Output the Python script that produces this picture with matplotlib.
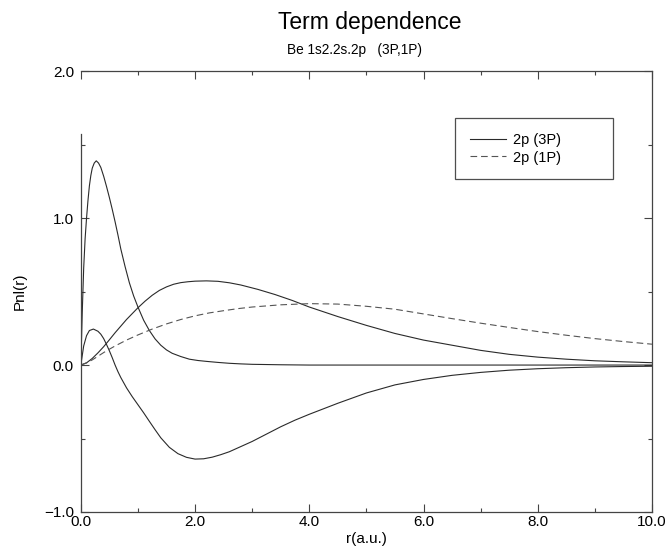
import matplotlib
matplotlib.use('Agg')

import matplotlib.pyplot as plt
from matplotlib.ticker import MultipleLocator

plt.rcParams['font.family'] = ['Liberation Sans', 'DejaVu Sans']

# radial functions (r in a.u.)
r_1s = [0, 0.025, 0.05, 0.075, 0.1, 0.125, 0.15, 0.175, 0.2, 0.235, 0.27, 0.31, 0.35,
        0.4, 0.45, 0.5, 0.55, 0.6, 0.65, 0.7, 0.775, 0.85, 0.925, 1.0, 1.1, 1.2, 1.3,
        1.4, 1.5, 1.6, 1.75, 1.9, 2.05, 2.2, 2.4, 2.6, 2.8, 3.0, 3.5, 4.0, 5.0, 6.0,
        7.0, 8.0, 9.0, 10.0]
p_1s = [0, 0.36, 0.66, 0.86, 1.0, 1.12, 1.22, 1.29, 1.34, 1.375, 1.39, 1.375, 1.345,
        1.285, 1.215, 1.14, 1.06, 0.975, 0.885, 0.79, 0.67, 0.56, 0.47, 0.395, 0.305,
        0.235, 0.178, 0.135, 0.103, 0.08, 0.058, 0.04, 0.031, 0.025, 0.018, 0.012,
        0.008, 0.005, 0.002, 0.0, 0.0, 0.0, 0.0, 0.0, 0.0, 0.0]

r_2s = [0, 0.05, 0.1, 0.15, 0.22, 0.3, 0.35, 0.4, 0.45, 0.5, 0.55, 0.6, 0.65, 0.7,
        0.8, 0.9, 1.0, 1.1, 1.2, 1.3, 1.4, 1.55, 1.7, 1.85, 2.0, 2.15, 2.3, 2.45, 2.6,
        2.8, 3.0, 3.25, 3.5, 3.75, 4.0, 4.5, 5.0, 5.5, 6.0, 6.5, 7.0, 7.5, 8.0, 8.5,
        9.0, 9.5, 10.0]
p_2s = [0, 0.13, 0.20, 0.235, 0.245, 0.23, 0.21, 0.18, 0.14, 0.097, 0.05, 0.0,
        -0.045, -0.085, -0.155, -0.215, -0.27, -0.325, -0.383, -0.44, -0.495, -0.56,
        -0.603, -0.628, -0.64, -0.638, -0.627, -0.61, -0.59, -0.555, -0.52, -0.47,
        -0.42, -0.375, -0.335, -0.26, -0.19, -0.135, -0.098, -0.07, -0.05, -0.035,
        -0.025, -0.018, -0.013, -0.01, -0.008]

r_2p = [0, 0.1, 0.2, 0.3, 0.4, 0.5, 0.6, 0.7, 0.8, 0.9, 1.0, 1.125, 1.25, 1.375, 1.5,
        1.625, 1.75, 1.875, 2.0, 2.2, 2.4, 2.6, 2.8, 3.1, 3.4, 3.7, 4.0, 4.5, 5.0,
        5.5, 6.0, 6.5, 7.0, 7.5, 8.0, 8.5, 9.0, 9.5, 10.0]
p_2p_3P = [0, 0.015, 0.045, 0.083, 0.125, 0.172, 0.22, 0.265, 0.31, 0.35, 0.39, 0.435,
           0.475, 0.508, 0.532, 0.55, 0.561, 0.567, 0.571, 0.573, 0.57, 0.56, 0.545,
           0.515, 0.48, 0.44, 0.395, 0.33, 0.27, 0.215, 0.17, 0.135, 0.10, 0.073,
           0.054, 0.040, 0.029, 0.022, 0.016]

r_1P = [0, 0.1, 0.2, 0.3, 0.4, 0.5, 0.6, 0.8, 1.0, 1.25, 1.5, 1.75, 2.0, 2.25, 2.5,
        2.75, 3.0, 3.5, 4.0, 4.5, 5.0, 5.5, 6.0, 6.5, 7.0, 7.5, 8.0, 8.5, 9.0, 9.5,
        10.0]
p_2p_1P = [0, 0.015, 0.035, 0.06, 0.085, 0.108, 0.13, 0.17, 0.205, 0.245, 0.28, 0.31,
           0.335, 0.355, 0.37, 0.384, 0.395, 0.41, 0.418, 0.415, 0.40, 0.38, 0.348,
           0.316, 0.285, 0.256, 0.228, 0.203, 0.18, 0.16, 0.142]

fig = plt.figure(figsize=(6.68, 5.52), dpi=100)
ax = fig.add_axes([0.121, 0.0725, 0.855, 0.7985])

line_col = '#2a2a2a'
ax.plot(r_1s, p_1s, color=line_col, lw=0.8)
ax.plot(r_2s, p_2s, color=line_col, lw=0.8)
ax.plot(r_2p, p_2p_3P, color=line_col, lw=0.8, label='2p (3P)')
ax.plot(r_1P, p_2p_1P, color='#555555', lw=0.8, dashes=(6, 3.5), label='2p (1P)')

ax.set_xlim(0, 10)
ax.set_ylim(-1, 2)
ax.xaxis.set_major_locator(MultipleLocator(2))
ax.xaxis.set_minor_locator(MultipleLocator(1))
ax.yaxis.set_major_locator(MultipleLocator(1))
ax.yaxis.set_minor_locator(MultipleLocator(0.5))
ax.xaxis.set_major_formatter(lambda v, p: '%.1f' % v)
ax.yaxis.set_major_formatter(lambda v, p: ('\u22121.0' if v < 0 else '%.1f' % v))

ax.tick_params(which='both', direction='in', top=True, right=True,
               color='#444444', width=0.8)
ax.tick_params(which='major', length=6, labelsize=11)
ax.tick_params(which='minor', length=3)
ax.tick_params(axis='x', pad=2)
ax.tick_params(axis='y', pad=5)

for s in ax.spines.values():
    s.set_linewidth(0.9)
    s.set_color('#444444')
ax.spines['left'].set_bounds(-1, 1.57)

ax.set_xlabel('r(a.u.)', fontsize=11, labelpad=2)
ax.set_ylabel('Pnl(r)', fontsize=11, labelpad=12)

leg = ax.legend(loc='upper left', bbox_to_anchor=(0.655, 0.893, 0.277, 0.0),
                mode='expand', fontsize=10.5, frameon=True, fancybox=False,
                handlelength=2.5, handletextpad=0.45, borderpad=1.0,
                labelspacing=0.25, borderaxespad=0)
leg.get_frame().set_edgecolor('#222222')
leg.get_frame().set_linewidth(0.9)

fig.text(0.554, 0.96, 'Term dependence', ha='center', va='center', fontsize=16.5)
fig.text(0.531, 0.909, 'Be 1s2.2s.2p   (3P,1P)', ha='center', va='center', fontsize=9.8)

fig.savefig('out.png', dpi=100)
